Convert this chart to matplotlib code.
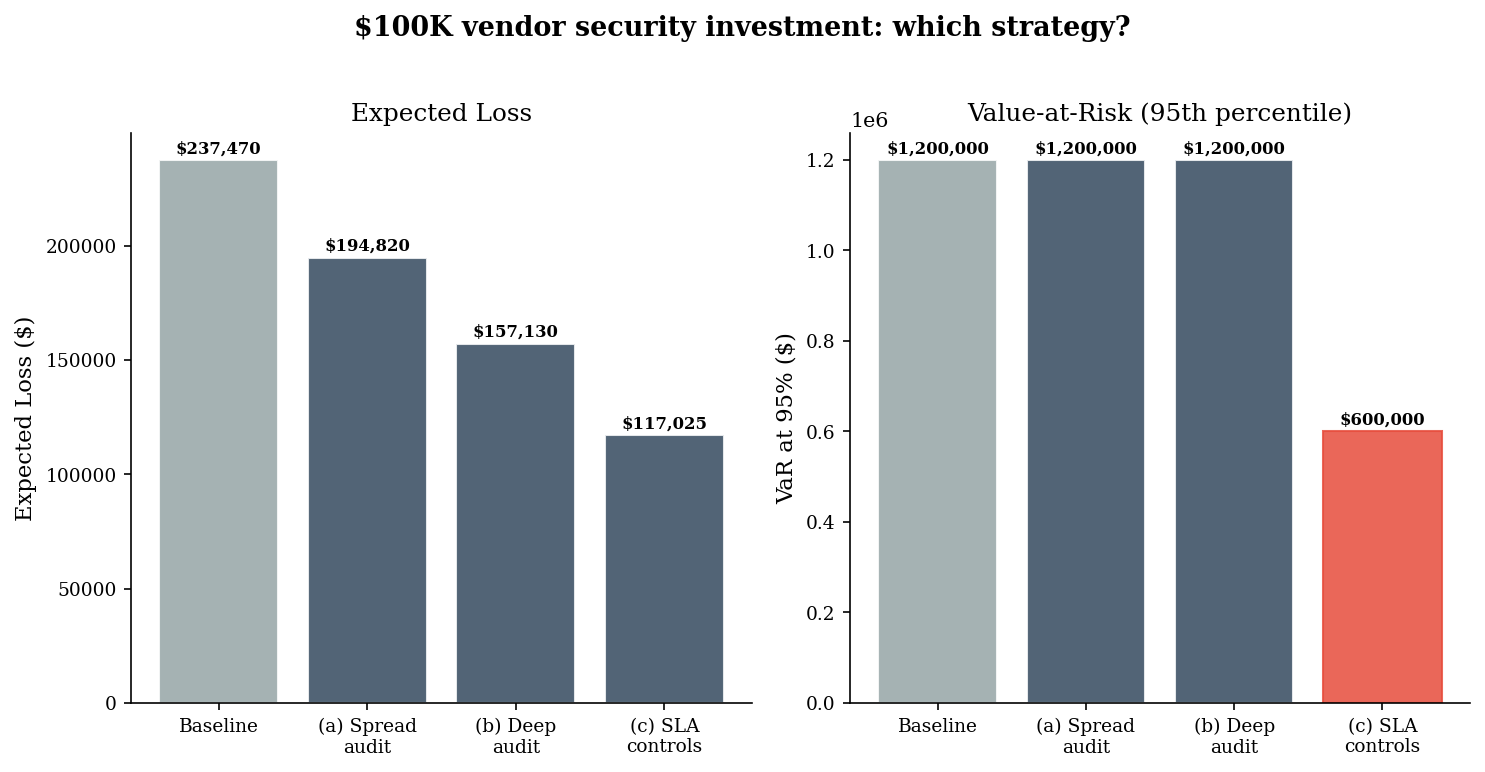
import matplotlib.pyplot as plt
import numpy as np

plt.rcParams['font.family'] = 'DejaVu Serif'

strategies = ["Baseline", "(a) Spread\naudit", "(b) Deep\naudit", "(c) SLA\ncontrols"]
expected_loss = [237470, 194820, 157130, 117025]
var_95 = [1200000, 1200000, 1200000, 600000]

gray = "#95a5a6"
dark = "#34495e"
red = "#e74c3c"
colors_el = [gray, dark, dark, dark]
colors_var = [gray, dark, dark, red]
edges_var = ["white", "white", "white", red]

fig = plt.figure(figsize=(10, 5.2), dpi=148.5)
ax1 = fig.add_axes([0.0882, 0.0894, 0.4182, 0.7383])
ax2 = fig.add_axes([0.5724, 0.0894, 0.4175, 0.7383])
axes = [ax1, ax2]
fig.suptitle("$100K vendor security investment: which strategy?",
             fontsize=13.1, fontweight="bold")

x = np.arange(len(strategies))


def label_bars(ax, bars, vals):
    for b, v in zip(bars, vals):
        ax.annotate(f"${v:,.0f}", (b.get_x() + b.get_width() / 2, v),
                    xytext=(0, 1.5), textcoords="offset points",
                    ha="center", va="bottom", fontsize=8, fontweight="bold")


bars = ax1.bar(x, expected_loss, color=colors_el, alpha=0.85,
               edgecolor="white", linewidth=1)
label_bars(ax1, bars, expected_loss)
ax1.set_ylabel("Expected Loss ($)", fontsize=11)
ax1.set_title("Expected Loss", fontsize=12)

bars = ax2.bar(x, var_95, color=colors_var, alpha=0.85,
               edgecolor=edges_var, linewidth=1)
label_bars(ax2, bars, var_95)
ax2.set_ylabel("VaR at 95% ($)", fontsize=11)
ax2.set_title("Value-at-Risk (95th percentile)", fontsize=12)

for ax in axes:
    ax.set_xticks(x)
    ax.set_xticklabels(strategies, fontsize=9)
    ax.tick_params(axis="y", labelsize=9)
    ax.spines["top"].set_visible(False)
    ax.spines["right"].set_visible(False)

fig.savefig("out.png")
